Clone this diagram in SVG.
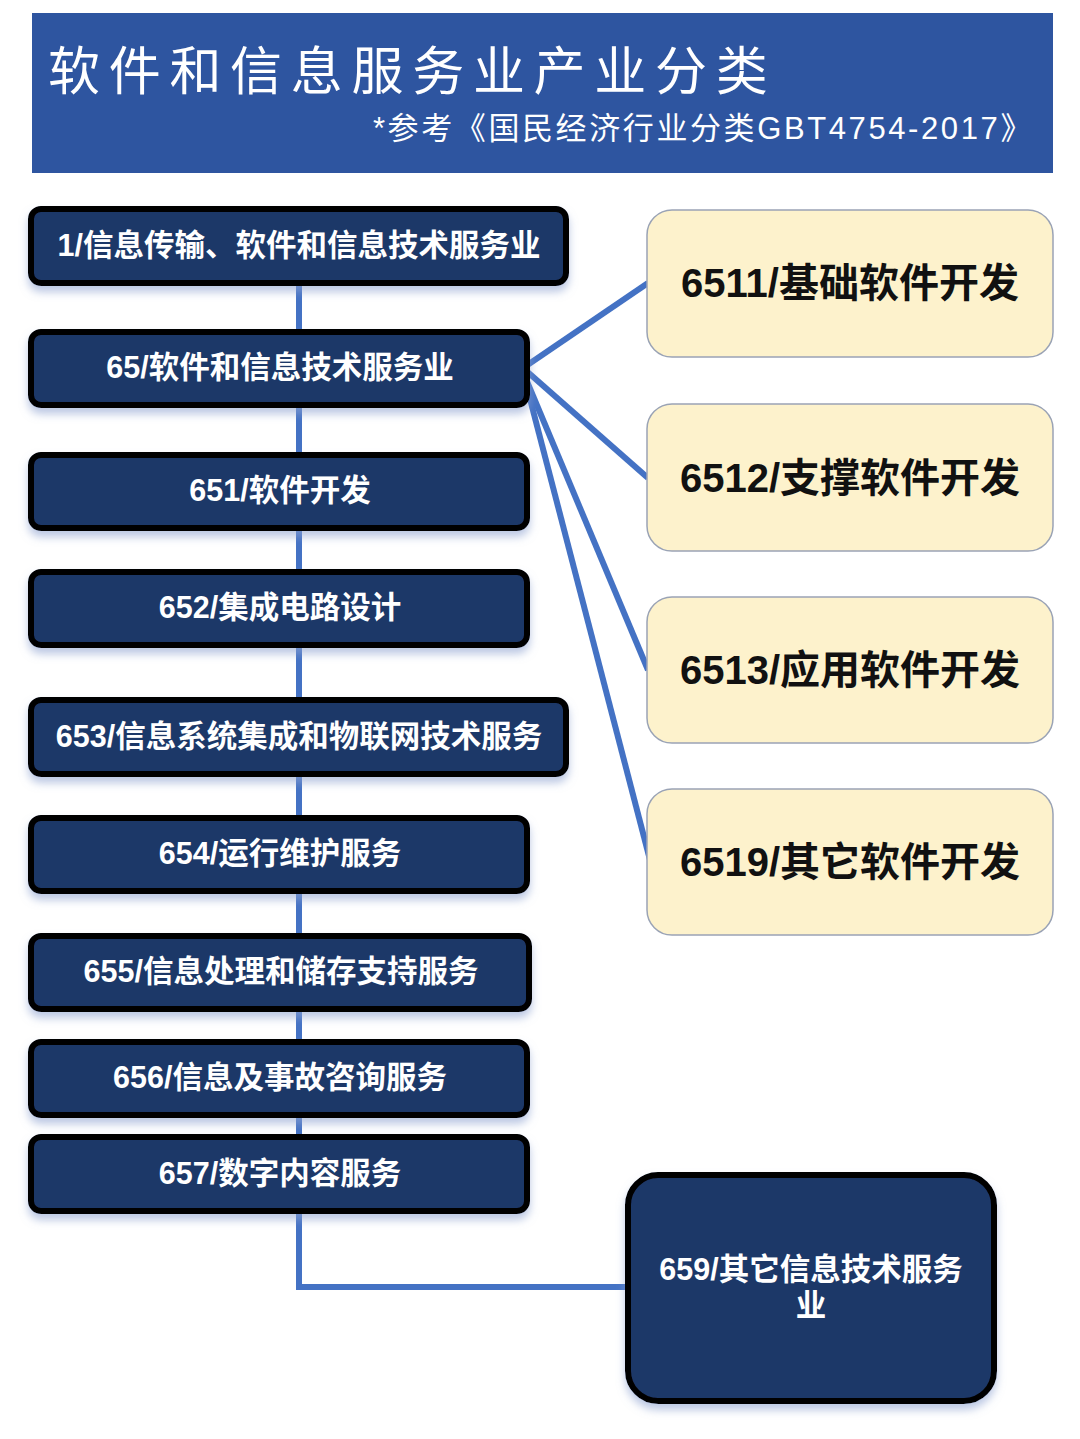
<svg xmlns="http://www.w3.org/2000/svg" width="1080" height="1439" viewBox="0 0 1080 1439">
<defs>
<filter id="sh" x="-10%" y="-20%" width="120%" height="150%">
<feDropShadow dx="0" dy="6" stdDeviation="4" flood-color="#8fa3d0" flood-opacity="0.6"/>
</filter>
<style>
.dk{fill:#1f3768;stroke:#000;stroke-width:6;filter:url(#sh)}
.lt{fill:#fdf2cc;stroke:#9aa3b5;stroke-width:1.5}
.tw{font-family:"Liberation Sans","Noto Sans CJK SC",sans-serif;font-weight:bold;fill:#fff;font-size:30.5px;text-anchor:middle}
.tb{font-family:"Liberation Sans","Noto Sans CJK SC",sans-serif;font-weight:bold;fill:#111;font-size:40px;text-anchor:middle}
.cn{stroke:#4472c4;stroke-width:6;fill:none}
</style>
</defs>
<rect width="1080" height="1439" fill="#fff"/>
<g id="header">
<rect x="32" y="13" width="1021" height="160" fill="#2e55a0"/>
<text x="48" y="90" font-family="'Noto Sans CJK SC',sans-serif" font-size="52" fill="#fff" letter-spacing="8.7">软件和信息服务业产业分类</text>
<text x="1034" y="139" text-anchor="end" font-family="'Liberation Sans','Noto Sans CJK SC',sans-serif" font-size="31" fill="#fff" letter-spacing="2.6">*参考《国民经济行业分类GBT4754-2017》</text>
</g>
<g id="connectors">
<path class="cn" d="M299 284 V1287 H627"/>
<line class="cn" x1="523" y1="368" x2="648" y2="283"/>
<line class="cn" x1="523" y1="368" x2="648" y2="478"/>
<line class="cn" x1="523" y1="372" x2="648" y2="670"/>
<line class="cn" x1="523" y1="372" x2="650" y2="860"/>
</g>
<g id="n1"><rect class="dk" x="31" y="209" width="535" height="74" rx="10"/><text class="tw" x="299" y="256">1/信息传输、软件和信息技术服务业</text></g>
<g id="n65"><rect class="dk" x="31" y="332" width="496" height="73" rx="10"/><text class="tw" x="280" y="378">65/软件和信息技术服务业</text></g>
<g id="n651"><rect class="dk" x="31" y="455" width="496" height="73" rx="10"/><text class="tw" x="280" y="501">651/软件开发</text></g>
<g id="n652"><rect class="dk" x="31" y="572" width="496" height="73" rx="10"/><text class="tw" x="280" y="618">652/集成电路设计</text></g>
<g id="n653"><rect class="dk" x="31" y="700" width="535" height="74" rx="10"/><text class="tw" x="299" y="747">653/信息系统集成和物联网技术服务</text></g>
<g id="n654"><rect class="dk" x="31" y="818" width="496" height="73" rx="10"/><text class="tw" x="280" y="864">654/运行维护服务</text></g>
<g id="n655"><rect class="dk" x="31" y="936" width="498" height="73" rx="10"/><text class="tw" x="281" y="982">655/信息处理和储存支持服务</text></g>
<g id="n656"><rect class="dk" x="31" y="1042" width="496" height="73" rx="10"/><text class="tw" x="280" y="1088">656/信息及事故咨询服务</text></g>
<g id="n657"><rect class="dk" x="31" y="1137" width="496" height="74" rx="10"/><text class="tw" x="280" y="1184">657/数字内容服务</text></g>
<g id="n659"><rect class="dk" x="628" y="1175" width="366" height="226" rx="30"/><text class="tw" x="811" y="1280">659/其它信息技术服务</text><text class="tw" x="811" y="1316">业</text></g>
<g id="n6511"><rect class="lt" x="647" y="210" width="406" height="147" rx="25"/><text class="tb" x="850" y="297">6511/基础软件开发</text></g>
<g id="n6512"><rect class="lt" x="647" y="404" width="406" height="147" rx="25"/><text class="tb" x="850" y="492">6512/支撑软件开发</text></g>
<g id="n6513"><rect class="lt" x="647" y="597" width="406" height="146" rx="25"/><text class="tb" x="850" y="684">6513/应用软件开发</text></g>
<g id="n6519"><rect class="lt" x="647" y="789" width="406" height="146" rx="25"/><text class="tb" x="850" y="876">6519/其它软件开发</text></g>
</svg>
